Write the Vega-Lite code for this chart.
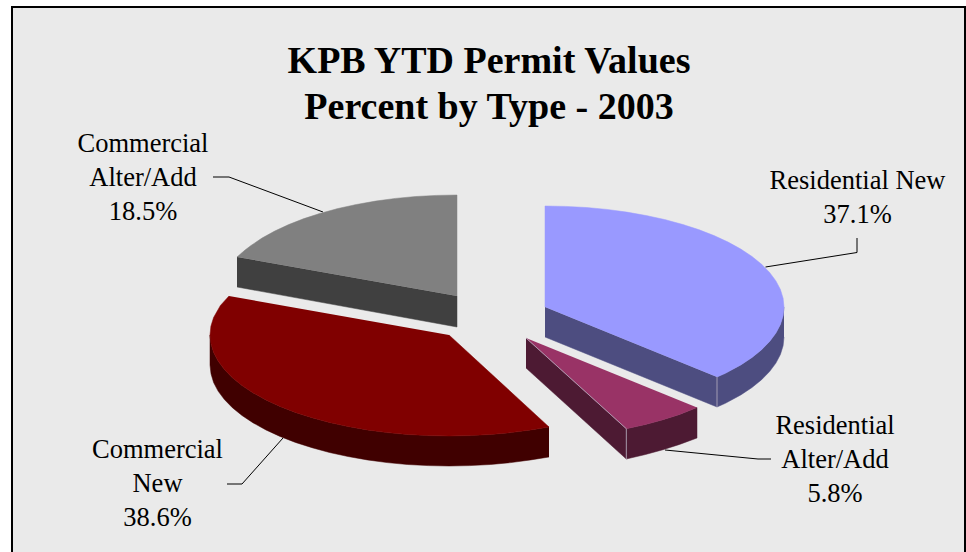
{"$schema":"https://vega.github.io/schema/vega-lite/v6.json","width":966,"height":552,"autosize":{"type":"fit","contains":"padding"},"padding":0,"background":"#ffffff","view":{"stroke":null},
"datasets":{
"frame":[{"x":12,"x2":965,"y":7,"y2":575}],
"faces":[
{"part":"Commercial Alter/Add side","i":1,"x":237,"y":257},{"part":"Commercial Alter/Add side","i":2,"x":457,"y":296},{"part":"Commercial Alter/Add side","i":3,"x":457,"y":327},{"part":"Commercial Alter/Add side","i":4,"x":237,"y":287},
{"part":"Commercial Alter/Add top","i":1,"x":457,"y":296},{"part":"Commercial Alter/Add top","i":2,"x":457,"y":195},{"part":"Commercial Alter/Add top","i":3,"x":436.3,"y":195.4},{"part":"Commercial Alter/Add top","i":4,"x":415.7,"y":196.5},{"part":"Commercial Alter/Add top","i":5,"x":395.4,"y":198.4},{"part":"Commercial Alter/Add top","i":6,"x":375.6,"y":201.1},{"part":"Commercial Alter/Add top","i":7,"x":356.4,"y":204.5},{"part":"Commercial Alter/Add top","i":8,"x":338,"y":208.5},{"part":"Commercial Alter/Add top","i":9,"x":320.5,"y":213.3},{"part":"Commercial Alter/Add top","i":10,"x":304,"y":218.6},{"part":"Commercial Alter/Add top","i":11,"x":288.7,"y":224.6},{"part":"Commercial Alter/Add top","i":12,"x":274.7,"y":231.1},{"part":"Commercial Alter/Add top","i":13,"x":262,"y":238.1},{"part":"Commercial Alter/Add top","i":14,"x":251,"y":245.5},{"part":"Commercial Alter/Add top","i":15,"x":245,"y":250.1},{"part":"Commercial Alter/Add top","i":16,"x":237,"y":257},
{"part":"Commercial New side","i":1,"x":549,"y":427},{"part":"Commercial New side","i":2,"x":530.7,"y":429.9},{"part":"Commercial New side","i":3,"x":510.9,"y":432.6},{"part":"Commercial New side","i":4,"x":490.5,"y":434.5},{"part":"Commercial New side","i":5,"x":469.8,"y":435.6},{"part":"Commercial New side","i":6,"x":449,"y":436},{"part":"Commercial New side","i":7,"x":428.2,"y":435.6},{"part":"Commercial New side","i":8,"x":407.5,"y":434.5},{"part":"Commercial New side","i":9,"x":387.1,"y":432.6},{"part":"Commercial New side","i":10,"x":367.3,"y":429.9},{"part":"Commercial New side","i":11,"x":348,"y":426.5},{"part":"Commercial New side","i":12,"x":329.5,"y":422.5},{"part":"Commercial New side","i":13,"x":312,"y":417.7},{"part":"Commercial New side","i":14,"x":295.4,"y":412.4},{"part":"Commercial New side","i":15,"x":280,"y":406.4},{"part":"Commercial New side","i":16,"x":265.9,"y":399.9},{"part":"Commercial New side","i":17,"x":253.2,"y":392.9},{"part":"Commercial New side","i":18,"x":242,"y":385.5},{"part":"Commercial New side","i":19,"x":232.4,"y":377.7},{"part":"Commercial New side","i":20,"x":224.4,"y":369.5},{"part":"Commercial New side","i":21,"x":218.1,"y":361.1},{"part":"Commercial New side","i":22,"x":213.6,"y":352.5},{"part":"Commercial New side","i":23,"x":211,"y":343.8},{"part":"Commercial New side","i":24,"x":210,"y":335},
{"part":"Commercial New side","i":25,"x":210,"y":365},{"part":"Commercial New side","i":26,"x":211,"y":373.8},{"part":"Commercial New side","i":27,"x":213.6,"y":382.5},{"part":"Commercial New side","i":28,"x":218.1,"y":391.1},{"part":"Commercial New side","i":29,"x":224.4,"y":399.5},{"part":"Commercial New side","i":30,"x":232.4,"y":407.7},{"part":"Commercial New side","i":31,"x":242,"y":415.5},{"part":"Commercial New side","i":32,"x":253.2,"y":422.9},{"part":"Commercial New side","i":33,"x":265.9,"y":429.9},{"part":"Commercial New side","i":34,"x":280,"y":436.4},{"part":"Commercial New side","i":35,"x":295.4,"y":442.4},{"part":"Commercial New side","i":36,"x":312,"y":447.7},{"part":"Commercial New side","i":37,"x":329.5,"y":452.5},{"part":"Commercial New side","i":38,"x":348,"y":456.5},{"part":"Commercial New side","i":39,"x":367.3,"y":459.9},{"part":"Commercial New side","i":40,"x":387.1,"y":462.6},{"part":"Commercial New side","i":41,"x":407.5,"y":464.5},{"part":"Commercial New side","i":42,"x":428.2,"y":465.6},{"part":"Commercial New side","i":43,"x":449,"y":466},{"part":"Commercial New side","i":44,"x":469.8,"y":465.6},{"part":"Commercial New side","i":45,"x":490.5,"y":464.5},{"part":"Commercial New side","i":46,"x":510.9,"y":462.6},{"part":"Commercial New side","i":47,"x":530.7,"y":459.9},{"part":"Commercial New side","i":48,"x":549,"y":457},
{"part":"Commercial New top","i":1,"x":449,"y":335},{"part":"Commercial New top","i":2,"x":549,"y":427},{"part":"Commercial New top","i":3,"x":530.7,"y":429.9},{"part":"Commercial New top","i":4,"x":510.9,"y":432.6},{"part":"Commercial New top","i":5,"x":490.5,"y":434.5},{"part":"Commercial New top","i":6,"x":469.8,"y":435.6},{"part":"Commercial New top","i":7,"x":449,"y":436},{"part":"Commercial New top","i":8,"x":428.2,"y":435.6},{"part":"Commercial New top","i":9,"x":407.5,"y":434.5},{"part":"Commercial New top","i":10,"x":387.1,"y":432.6},{"part":"Commercial New top","i":11,"x":367.3,"y":429.9},{"part":"Commercial New top","i":12,"x":348,"y":426.5},{"part":"Commercial New top","i":13,"x":329.5,"y":422.5},{"part":"Commercial New top","i":14,"x":312,"y":417.7},{"part":"Commercial New top","i":15,"x":295.4,"y":412.4},{"part":"Commercial New top","i":16,"x":280,"y":406.4},{"part":"Commercial New top","i":17,"x":265.9,"y":399.9},{"part":"Commercial New top","i":18,"x":253.2,"y":392.9},{"part":"Commercial New top","i":19,"x":242,"y":385.5},{"part":"Commercial New top","i":20,"x":232.4,"y":377.7},{"part":"Commercial New top","i":21,"x":224.4,"y":369.5},{"part":"Commercial New top","i":22,"x":218.1,"y":361.1},{"part":"Commercial New top","i":23,"x":213.6,"y":352.5},{"part":"Commercial New top","i":24,"x":211,"y":343.8},{"part":"Commercial New top","i":25,"x":210,"y":335},{"part":"Commercial New top","i":26,"x":210.9,"y":326.2},{"part":"Commercial New top","i":27,"x":213.6,"y":317.5},{"part":"Commercial New top","i":28,"x":220.4,"y":305.5},{"part":"Commercial New top","i":29,"x":229,"y":296},
{"part":"Residential New side","i":1,"x":545,"y":307},{"part":"Residential New side","i":2,"x":717,"y":377},{"part":"Residential New side","i":3,"x":717,"y":407},{"part":"Residential New side","i":4,"x":545,"y":337},
{"part":"Residential New outer","i":1,"x":784,"y":307},{"part":"Residential New outer","i":2,"x":783.1,"y":315.8},{"part":"Residential New outer","i":3,"x":780.4,"y":324.5},{"part":"Residential New outer","i":4,"x":775.9,"y":333.1},{"part":"Residential New outer","i":5,"x":769.6,"y":341.5},{"part":"Residential New outer","i":6,"x":761.6,"y":349.7},{"part":"Residential New outer","i":7,"x":752,"y":357.5},{"part":"Residential New outer","i":8,"x":740.8,"y":364.9},{"part":"Residential New outer","i":9,"x":725.4,"y":373.3},{"part":"Residential New outer","i":10,"x":717,"y":377},{"part":"Residential New outer","i":11,"x":717,"y":407},{"part":"Residential New outer","i":12,"x":725.4,"y":403.3},{"part":"Residential New outer","i":13,"x":740.8,"y":394.9},{"part":"Residential New outer","i":14,"x":752,"y":387.5},{"part":"Residential New outer","i":15,"x":761.6,"y":379.7},{"part":"Residential New outer","i":16,"x":769.6,"y":371.5},{"part":"Residential New outer","i":17,"x":775.9,"y":363.1},{"part":"Residential New outer","i":18,"x":780.4,"y":354.5},{"part":"Residential New outer","i":19,"x":783.1,"y":345.8},{"part":"Residential New outer","i":20,"x":784,"y":337},
{"part":"Residential New top","i":1,"x":545,"y":307},{"part":"Residential New top","i":2,"x":545,"y":206},{"part":"Residential New top","i":3,"x":565.8,"y":206.4},{"part":"Residential New top","i":4,"x":586.5,"y":207.5},{"part":"Residential New top","i":5,"x":606.9,"y":209.4},{"part":"Residential New top","i":6,"x":626.7,"y":212.1},{"part":"Residential New top","i":7,"x":646,"y":215.5},{"part":"Residential New top","i":8,"x":664.5,"y":219.5},{"part":"Residential New top","i":9,"x":682.1,"y":224.3},{"part":"Residential New top","i":10,"x":698.6,"y":229.6},{"part":"Residential New top","i":11,"x":714,"y":235.6},{"part":"Residential New top","i":12,"x":728.1,"y":242.1},{"part":"Residential New top","i":13,"x":740.8,"y":249.1},{"part":"Residential New top","i":14,"x":752,"y":256.5},{"part":"Residential New top","i":15,"x":761.6,"y":264.3},{"part":"Residential New top","i":16,"x":769.6,"y":272.5},{"part":"Residential New top","i":17,"x":775.9,"y":280.9},{"part":"Residential New top","i":18,"x":780.4,"y":289.5},{"part":"Residential New top","i":19,"x":783.1,"y":298.2},{"part":"Residential New top","i":20,"x":784,"y":307},{"part":"Residential New top","i":21,"x":783.1,"y":315.8},{"part":"Residential New top","i":22,"x":780.4,"y":324.5},{"part":"Residential New top","i":23,"x":775.9,"y":333.1},{"part":"Residential New top","i":24,"x":769.6,"y":341.5},{"part":"Residential New top","i":25,"x":761.6,"y":349.7},{"part":"Residential New top","i":26,"x":752,"y":357.5},{"part":"Residential New top","i":27,"x":740.8,"y":364.9},{"part":"Residential New top","i":28,"x":725.4,"y":373.3},{"part":"Residential New top","i":29,"x":717,"y":377},
{"part":"Residential Alter/Add side","i":1,"x":526,"y":338},{"part":"Residential Alter/Add side","i":2,"x":626.3,"y":428.7},{"part":"Residential Alter/Add side","i":3,"x":626.3,"y":459},{"part":"Residential Alter/Add side","i":4,"x":526,"y":368},
{"part":"Residential Alter/Add outer","i":1,"x":626.3,"y":428.7},{"part":"Residential Alter/Add outer","i":2,"x":645.5,"y":424.5},{"part":"Residential Alter/Add outer","i":3,"x":663,"y":419.7},{"part":"Residential Alter/Add outer","i":4,"x":679.6,"y":414.4},{"part":"Residential Alter/Add outer","i":5,"x":697,"y":407.5},{"part":"Residential Alter/Add outer","i":6,"x":697,"y":438},{"part":"Residential Alter/Add outer","i":7,"x":679.6,"y":444.4},{"part":"Residential Alter/Add outer","i":8,"x":663,"y":449.7},{"part":"Residential Alter/Add outer","i":9,"x":645.5,"y":454.5},{"part":"Residential Alter/Add outer","i":10,"x":626.3,"y":459},
{"part":"Residential Alter/Add top","i":1,"x":526,"y":338},{"part":"Residential Alter/Add top","i":2,"x":626.3,"y":428.7},{"part":"Residential Alter/Add top","i":3,"x":645.5,"y":424.5},{"part":"Residential Alter/Add top","i":4,"x":663,"y":419.7},{"part":"Residential Alter/Add top","i":5,"x":679.6,"y":414.4},{"part":"Residential Alter/Add top","i":6,"x":697,"y":407.5}
],
"leaders":[
{"label":"Commercial Alter/Add","i":1,"x":213,"y":177},{"label":"Commercial Alter/Add","i":2,"x":229,"y":177},{"label":"Commercial Alter/Add","i":3,"x":323,"y":212},
{"label":"Residential New","i":1,"x":765.5,"y":267},{"label":"Residential New","i":2,"x":857,"y":252.5},{"label":"Residential New","i":3,"x":857,"y":238},
{"label":"Residential Alter/Add","i":1,"x":665,"y":450},{"label":"Residential Alter/Add","i":2,"x":758,"y":459},{"label":"Residential Alter/Add","i":3,"x":771,"y":459},
{"label":"Commercial New","i":1,"x":283,"y":438},{"label":"Commercial New","i":2,"x":242,"y":484},{"label":"Commercial New","i":3,"x":227,"y":484}
],
"edges":[
{"edge":"Residential New corner","i":1,"x":717,"y":377},{"edge":"Residential New corner","i":2,"x":717,"y":407},
{"edge":"Residential Alter/Add corner","i":1,"x":626.3,"y":428.7},{"edge":"Residential Alter/Add corner","i":2,"x":626.3,"y":459},
{"edge":"Residential Alter/Add cut","i":1,"x":526,"y":338},{"edge":"Residential Alter/Add cut","i":2,"x":626.3,"y":428.7}
],
"labels":[
{"text":"Commercial\nAlter/Add\n18.5%","x":143,"y":152},
{"text":"Residential New\n37.1%","x":857.5,"y":189},
{"text":"Residential\nAlter/Add\n5.8%","x":835,"y":434},
{"text":"Commercial\nNew\n38.6%","x":157.5,"y":458}
],
"titles":[{"text":"KPB YTD Permit Values\nPercent by Type - 2003","x":489,"y":73}]
},
"encoding":{
"x":{"field":"x","type":"quantitative","scale":{"domain":[0,966],"nice":false,"zero":false},"axis":null},
"y":{"field":"y","type":"quantitative","scale":{"domain":[0,552],"reverse":true,"nice":false,"zero":false},"axis":null}
},
"layer":[
{"data":{"name":"frame"},"mark":{"type":"rect","fill":"#eaeaea","stroke":"#000000","strokeWidth":2,"clip":true},"encoding":{"x2":{"field":"x2"},"y2":{"field":"y2"}}},
{"data":{"name":"leaders"},"mark":{"type":"line","stroke":"#000000","strokeWidth":1},"encoding":{"detail":{"field":"label"},"order":{"field":"i","type":"quantitative"}}},
{"data":{"name":"faces"},"mark":{"type":"line","strokeWidth":0.5},"encoding":{
"order":{"field":"i","type":"quantitative"},
"color":{"field":"part","type":"nominal","legend":null,"sort":null,"scale":{"domain":["Commercial Alter/Add side","Commercial Alter/Add top","Commercial New side","Commercial New top","Residential New side","Residential New outer","Residential New top","Residential Alter/Add side","Residential Alter/Add outer","Residential Alter/Add top"],"range":["#404040","#808080","#400000","#800000","#4d4d80","#4d4d80","#9999ff","#4d1a33","#4d1a33","#993366"]}},
"fill":{"field":"part","type":"nominal","legend":null,"sort":null,"scale":{"domain":["Commercial Alter/Add side","Commercial Alter/Add top","Commercial New side","Commercial New top","Residential New side","Residential New outer","Residential New top","Residential Alter/Add side","Residential Alter/Add outer","Residential Alter/Add top"],"range":["#404040","#808080","#400000","#800000","#4d4d80","#4d4d80","#9999ff","#4d1a33","#4d1a33","#993366"]}}
}},
{"data":{"name":"edges"},"mark":{"type":"line","stroke":"#b8b0c0","strokeWidth":0.8},"encoding":{"detail":{"field":"edge"},"order":{"field":"i","type":"quantitative"}}},
{"data":{"name":"labels"},"mark":{"type":"text","font":"Liberation Serif","fontSize":26.5,"fill":"#000000","align":"center","baseline":"alphabetic","lineBreak":"\n","lineHeight":34},"encoding":{"text":{"field":"text"}}},
{"data":{"name":"titles"},"mark":{"type":"text","font":"Liberation Serif","fontSize":38,"fontWeight":"bold","fill":"#000000","align":"center","baseline":"alphabetic","lineBreak":"\n","lineHeight":46},"encoding":{"text":{"field":"text"}}}
]}
